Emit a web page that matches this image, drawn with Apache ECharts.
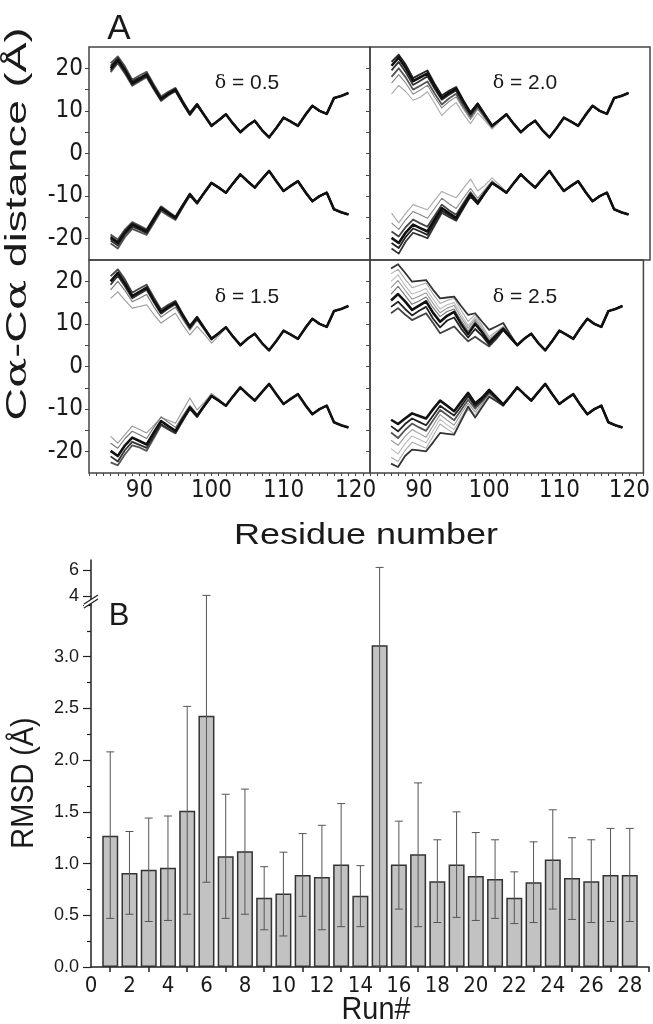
<!DOCTYPE html>
<html>
<head>
<meta charset="utf-8">
<script src="https://cdn.jsdelivr.net/npm/echarts@6/dist/echarts.min.js"></script>
<style>
html, body { margin: 0; padding: 0; background: #fff; }
#chart { width: 653px; height: 1024px; }
</style>
</head>
<body>
<div id="chart"></div>
<script>
// ---- panel A data: residues 86..119, heads cover 86..103, tails 104..119 ----
var residues = [86, 87, 88, 89, 90, 91, 92, 93, 94, 95, 96, 97, 98, 99, 100, 101, 102,
    103, 104, 105, 106, 107, 108, 109, 110, 111, 112, 113, 114, 115, 116, 117, 118, 119];
var residueLabels = [90, 100, 110, 120];
var distLabels = [-20, -10, 0, 10, 20];
var distTicks = [-20, -15, -10, -5, 0, 5, 10, 15, 20];
var deltaLabels = ['0.5', '2.0', '1.5', '2.5'];

var upperTail = [5.0, 6.5, 7.7, 5.5, 3.8, 6.0, 8.4, 7.5, 6.5, 9.0, 11.2, 10.0, 9.3, 13.0, 13.5, 14.2];
var lowerTail = [-4.9, -6.5, -8.0, -6.0, -4.1, -6.5, -8.8, -7.6, -6.5, -9.0, -11.2, -10.0, -9.2, -13.1, -13.8, -14.3];

var d05Upper = [
    [21.2, 22.8, 20.4, 17.3, 18.3, 19.2, 16.2, 13.4, 14.5, 15.4, 12.4, 9.6, 11.7, 9.1, 6.6, 7.8, 9.2, 7.0],
    [19.1, 21.2, 18.7, 15.9, 16.9, 17.9, 15.0, 12.3, 13.6, 14.6, 11.7, 9.0, 11.3, 8.9, 6.4, 7.8, 9.2, 7.0],
    [20.6, 22.4, 19.9, 17.0, 17.8, 18.8, 15.8, 13.0, 14.2, 15.2, 12.2, 9.4, 11.6, 9.0, 6.5, 7.8, 9.2, 7.0],
    [19.5, 21.6, 19.2, 16.2, 17.2, 18.2, 15.3, 12.6, 13.8, 14.8, 11.9, 9.2, 11.4, 9.0, 6.5, 7.8, 9.2, 7.0],
    [20.0, 22.0, 19.5, 16.5, 17.5, 18.5, 15.5, 12.8, 14.0, 15.0, 12.0, 9.3, 11.5, 9.0, 6.5, 7.8, 9.2, 7.0]
];
var d05Lower = [
    [-21.1, -22.3, -19.6, -17.7, -18.4, -19.1, -16.3, -13.5, -14.6, -15.6, -12.7, -9.9, -11.8, -9.3, -7.0, -8.0, -9.2, -7.0],
    [-19.0, -20.2, -17.8, -16.1, -16.9, -17.8, -15.0, -12.4, -13.6, -14.8, -12.0, -9.4, -11.5, -9.1, -6.9, -8.0, -9.2, -7.0],
    [-20.4, -21.6, -19.0, -17.2, -17.9, -18.7, -15.9, -13.1, -14.3, -15.3, -12.5, -9.7, -11.7, -9.2, -6.9, -8.0, -9.2, -7.0],
    [-19.5, -20.7, -18.2, -16.4, -17.2, -18.1, -15.3, -12.6, -13.8, -15.0, -12.2, -9.5, -11.6, -9.2, -6.9, -8.0, -9.2, -7.0],
    [-19.8, -21.0, -18.5, -16.7, -17.5, -18.3, -15.5, -12.8, -14.0, -15.1, -12.3, -9.6, -11.6, -9.2, -6.9, -8.0, -9.2, -7.0]
];

var d15Upper = [
    [16.0, 17.5, 15.5, 13.7, 14.1, 14.5, 12.2, 10.2, 11.4, 12.5, 9.8, 7.4, 9.4, 7.6, 5.5, 7.2, 9.0, 7.0],
    [18.0, 20.0, 17.8, 15.2, 16.0, 16.9, 14.0, 11.6, 12.8, 13.9, 11.1, 8.5, 10.8, 8.5, 6.2, 7.6, 9.2, 7.0],
    [21.2, 22.8, 20.4, 17.3, 18.3, 19.2, 16.2, 13.4, 14.5, 15.4, 12.4, 9.6, 11.7, 9.1, 6.6, 7.8, 9.2, 7.0],
    [19.2, 21.3, 18.8, 16.0, 17.0, 18.0, 15.1, 12.4, 13.6, 14.6, 11.7, 9.0, 11.3, 8.9, 6.4, 7.8, 9.2, 7.0],
    [20.0, 22.0, 19.5, 16.5, 17.5, 18.5, 15.5, 12.8, 14.0, 15.0, 12.0, 9.3, 11.5, 9.0, 6.5, 7.8, 9.2, 7.0]
];
var d15Lower = [
    [-16.4, -18.0, -16.0, -14.0, -14.8, -15.6, -13.8, -12.0, -12.6, -13.3, -10.4, -7.4, -10.2, -8.4, -6.3, -7.6, -9.2, -7.0],
    [-18.0, -19.2, -16.9, -15.2, -16.0, -16.9, -14.3, -11.8, -13.1, -14.3, -11.6, -9.1, -11.2, -8.9, -6.7, -8.0, -9.2, -7.0],
    [-22.5, -23.2, -20.6, -18.5, -19.0, -19.8, -16.8, -13.8, -14.8, -15.7, -12.8, -10.0, -11.8, -9.3, -7.0, -8.0, -9.2, -7.0],
    [-21.1, -22.3, -19.6, -17.7, -18.4, -19.1, -16.3, -13.5, -14.6, -15.6, -12.7, -9.9, -11.8, -9.3, -7.0, -8.0, -9.2, -7.0],
    [-19.8, -21.0, -18.5, -16.7, -17.5, -18.3, -15.5, -12.8, -14.0, -15.1, -12.3, -9.6, -11.6, -9.2, -6.9, -8.0, -9.2, -7.0]
];

var d20Upper = [
    [14.0, 16.0, 14.5, 12.5, 13.2, 14.5, 11.8, 8.9, 10.6, 12.0, 9.3, 7.0, 9.5, 7.7, 5.7, 7.4, 9.0, 7.0],
    [16.5, 18.5, 16.5, 13.9, 14.9, 16.0, 13.2, 10.7, 12.2, 13.3, 10.5, 8.0, 10.4, 8.2, 6.0, 7.6, 9.1, 7.0],
    [18.0, 20.0, 17.8, 15.0, 15.9, 16.9, 14.1, 11.5, 12.9, 14.0, 11.1, 8.6, 10.9, 8.6, 6.3, 7.7, 9.2, 7.0],
    [19.5, 21.5, 19.0, 16.1, 17.1, 18.1, 15.2, 12.6, 13.8, 14.8, 11.8, 9.2, 11.4, 8.9, 6.5, 7.8, 9.2, 7.0],
    [21.5, 23.2, 20.8, 17.7, 18.6, 19.5, 16.4, 13.6, 14.7, 15.6, 12.5, 9.7, 11.8, 9.2, 6.6, 7.8, 9.2, 7.0],
    [20.6, 22.5, 20.0, 17.0, 17.9, 18.8, 15.8, 13.0, 14.2, 15.2, 12.2, 9.4, 11.6, 9.0, 6.5, 7.8, 9.2, 7.0]
];
var d20Lower = [
    [-14.0, -16.3, -14.0, -12.0, -12.6, -13.2, -11.0, -8.9, -9.7, -10.4, -8.2, -6.0, -8.8, -7.5, -5.7, -7.3, -9.0, -7.0],
    [-16.3, -17.8, -15.5, -13.6, -14.4, -15.2, -12.9, -10.5, -11.8, -12.9, -10.5, -8.2, -10.5, -8.5, -6.4, -7.8, -9.1, -7.0],
    [-18.3, -19.5, -17.2, -15.5, -16.4, -17.2, -14.6, -12.0, -13.3, -14.4, -11.7, -9.1, -11.2, -9.0, -6.8, -8.0, -9.2, -7.0],
    [-22.3, -23.5, -20.6, -18.6, -19.2, -19.9, -16.9, -13.9, -14.9, -15.8, -12.9, -10.1, -11.9, -9.4, -7.0, -8.0, -9.2, -7.0],
    [-21.0, -22.2, -19.5, -17.6, -18.3, -19.1, -16.2, -13.4, -14.5, -15.5, -12.6, -9.8, -11.8, -9.3, -6.9, -8.0, -9.2, -7.0],
    [-19.8, -21.0, -18.5, -16.7, -17.5, -18.3, -15.5, -12.8, -14.0, -15.1, -12.3, -9.6, -11.6, -9.2, -6.9, -8.0, -9.2, -7.0]
];

var d25Upper = [
    [20.0, 21.5, 19.0, 17.0, 17.6, 18.3, 15.8, 13.5, 14.5, 15.0, 12.2, 9.6, 11.6, 9.1, 6.6, 7.9, 9.2, 7.0],
    [21.8, 22.8, 20.5, 18.5, 19.0, 19.6, 17.0, 14.8, 15.5, 16.0, 13.2, 10.6, 12.2, 9.6, 7.0, 8.2, 9.4, 7.1],
    [18.5, 20.2, 17.9, 15.8, 16.5, 17.3, 14.8, 12.6, 13.7, 14.3, 11.5, 9.0, 11.1, 8.8, 6.3, 7.7, 9.1, 7.0],
    [17.0, 18.8, 16.7, 14.6, 15.4, 16.3, 13.8, 11.7, 12.9, 13.5, 10.8, 8.3, 10.6, 8.4, 6.0, 7.5, 9.0, 6.9],
    [23.0, 24.0, 22.0, 19.9, 20.1, 20.3, 18.0, 16.0, 16.2, 16.4, 14.2, 12.1, 12.5, 10.5, 8.6, 9.4, 10.2, 7.5],
    [12.5, 13.7, 12.2, 10.9, 11.7, 12.5, 10.2, 7.8, 8.6, 9.4, 7.6, 5.9, 7.0, 5.8, 4.7, 6.4, 8.5, 6.8],
    [14.0, 15.2, 13.5, 12.0, 13.1, 14.0, 11.2, 9.2, 10.8, 11.5, 8.9, 6.8, 8.8, 7.2, 5.1, 6.8, 8.6, 6.8],
    [15.5, 17.0, 15.3, 13.3, 14.3, 15.3, 12.6, 10.5, 11.9, 12.8, 10.0, 7.6, 10.0, 8.0, 5.6, 7.3, 8.9, 6.9]
];
var d25Lower = [
    [-19.3, -20.5, -18.1, -16.3, -17.1, -17.9, -15.1, -12.4, -13.7, -14.8, -12.0, -9.4, -11.4, -9.1, -6.8, -8.0, -9.2, -7.0],
    [-21.3, -22.3, -19.7, -17.8, -18.5, -19.2, -16.3, -13.5, -14.7, -15.7, -12.8, -10.0, -11.9, -9.4, -7.0, -8.1, -9.2, -7.0],
    [-17.3, -18.5, -16.4, -14.8, -15.7, -16.6, -13.9, -11.3, -12.6, -13.8, -11.1, -8.6, -10.7, -8.7, -6.5, -7.8, -9.2, -7.0],
    [-15.5, -16.8, -14.9, -13.4, -14.3, -15.1, -12.6, -10.2, -11.4, -12.6, -10.2, -7.8, -9.9, -8.2, -6.2, -7.6, -9.1, -7.0],
    [-22.8, -23.6, -21.0, -19.5, -19.7, -19.9, -17.8, -15.6, -15.8, -16.0, -12.7, -9.4, -12.0, -9.5, -7.1, -8.1, -9.2, -7.0],
    [-14.0, -15.2, -13.5, -12.2, -13.0, -13.8, -11.5, -9.2, -10.4, -11.5, -9.3, -7.0, -9.3, -7.8, -5.9, -7.4, -9.0, -7.0],
    [-12.5, -13.5, -12.2, -11.0, -11.6, -12.2, -10.0, -8.0, -9.2, -10.5, -8.3, -6.2, -8.7, -7.3, -5.5, -7.2, -8.9, -7.0]
];

// ---- panel B data ----
var runs = [1, 2, 3, 4, 5, 6, 7, 8, 9, 10, 11, 12, 13, 14, 15, 16, 17, 18, 19, 20, 21, 22, 23, 24, 25, 26, 27, 28];
var rmsd = [1.27, 0.91, 0.94, 0.96, 1.51, 2.43, 1.07, 1.12, 0.67, 0.71, 0.89, 0.87, 0.99, 0.69,
    3.11, 0.99, 1.09, 0.83, 0.99, 0.88, 0.85, 0.67, 0.82, 1.04, 0.86, 0.83, 0.89, 0.89];
var errHigh = [2.08, 1.31, 1.44, 1.46, 2.52, 4.05, 1.67, 1.72, 0.97, 1.11, 1.29, 1.37, 1.58, 0.98,
    6.2, 1.41, 1.78, 1.23, 1.50, 1.30, 1.23, 0.92, 1.21, 1.52, 1.25, 1.23, 1.34, 1.34];
var errLow = [0.47, 0.51, 0.44, 0.45, 0.51, 0.82, 0.47, 0.51, 0.36, 0.30, 0.49, 0.36, 0.39, 0.39,
    0.0, 0.56, 0.39, 0.43, 0.48, 0.45, 0.47, 0.42, 0.43, 0.56, 0.46, 0.43, 0.44, 0.44];
var runLabels = [0, 2, 4, 6, 8, 10, 12, 14, 16, 18, 20, 22, 24, 26, 28];
var runTicks = [1, 3, 5, 7, 9, 11, 13, 15, 17, 19, 21, 23, 25, 27, 29];
var brokenLabels = [4, 6];

// ---- styles ----
var SANS = '"Liberation Sans", Arial, sans-serif';
var NARROW = '"Liberation Sans Narrow", "Arial Narrow", "DejaVu Sans Condensed", "Liberation Sans", sans-serif';
var SERIF = '"DejaVu Serif", "Liberation Serif", serif';
var INK = '#1a1a1a';
var FRAME = '#444';

var shades = {
    d05u: ['#555', '#555', '#333', '#2a2a2a', '#111'],
    d05l: ['#555', '#555', '#333', '#2a2a2a', '#111'],
    d15u: ['#999', '#777', '#444', '#333', '#111'],
    d15l: ['#999', '#777', '#555', '#333', '#111'],
    d20u: ['#aaa', '#888', '#555', '#333', '#222', '#111'],
    d20l: ['#aaa', '#888', '#444', '#333', '#222', '#111'],
    d25u: ['#bbb', '#aaa', '#999', '#777', '#333', '#444', '#222', '#111'],
    d25l: ['#bbb', '#aaa', '#999', '#555', '#333', '#222', '#111']
};

var panelGrids = [
    {left: 89, top: 47, width: 281, height: 213},
    {left: 370, top: 47, width: 280, height: 213},
    {left: 89, top: 260, width: 281, height: 213},
    {left: 370, top: 260, width: 280, height: 213}
];

var residueTicks = [];
for (var r = 83; r <= 122; r++) residueTicks.push(r);

function traceData(head, tail) {
    return residues.map(function (res, i) {
        return [res, i < head.length ? head[i] : tail[i - head.length]];
    });
}

function lineSeries(gi, data, shade) {
    var level = parseInt(shade.substr(1, 1), 16);
    var width = level >= 7 ? 1.1 : (level <= 1 ? 2.6 : 1.8);
    return {
        type: 'line', xAxisIndex: gi, yAxisIndex: gi, data: data,
        symbol: 'none', silent: true, animation: false,
        lineStyle: {color: shade, width: width, join: 'round'}
    };
}

function panelSeries(gi, uppers, upShades, lowers, loShades) {
    var out = [];
    uppers.forEach(function (h, k) { out.push(lineSeries(gi, traceData(h, upperTail), upShades[k])); });
    lowers.forEach(function (h, k) { out.push(lineSeries(gi, traceData(h, lowerTail), loShades[k])); });
    return out;
}

function resAxis(gi, bottom) {
    return {
        type: 'value', gridIndex: gi, min: 83, max: 122,
        splitLine: {show: false}, axisLine: {show: false, onZero: false},
        axisTick: {show: bottom, customValues: residueTicks, length: 3, lineStyle: {color: FRAME}},
        axisLabel: {show: bottom, customValues: residueLabels, margin: 6, fontSize: 24, fontFamily: NARROW, color: INK}
    };
}

function distAxis(gi, left) {
    return {
        type: 'value', gridIndex: gi, min: -25, max: 25,
        splitLine: {show: false}, axisLine: {show: false, onZero: false},
        axisTick: {show: true, customValues: distTicks, length: 4, lineStyle: {color: FRAME}},
        axisLabel: {show: left, customValues: distLabels, margin: 6, fontSize: 24, fontFamily: NARROW, color: INK}
    };
}

function renderErr(params, api) {
    var x = api.value(0);
    var pLo = api.coord([x, api.value(1)]);
    var pHi = api.coord([x, api.value(2)]);
    var cap = 4;
    var st = {stroke: '#555', lineWidth: 1};
    return {
        type: 'group',
        children: [
            {type: 'line', shape: {x1: pHi[0], y1: pHi[1], x2: pLo[0], y2: pLo[1]}, style: st},
            {type: 'line', shape: {x1: pHi[0] - cap, y1: pHi[1], x2: pHi[0] + cap, y2: pHi[1]}, style: st},
            {type: 'line', shape: {x1: pLo[0] - cap, y1: pLo[1], x2: pLo[0] + cap, y2: pLo[1]}, style: st}
        ]
    };
}

var errData = runs.map(function (run, i) { return [run, errLow[i], errHigh[i]]; });

var grids = panelGrids.map(function (g) {
    return {left: g.left, top: g.top, width: g.width, height: g.height, show: true,
        borderColor: FRAME, borderWidth: 1.5, backgroundColor: 'transparent'};
});
grids.push({left: 91, top: 605, width: 558, height: 362});
grids.push({left: 91, top: 560, width: 558, height: 45});

var xAxes = [resAxis(0, false), resAxis(1, false), resAxis(2, true), resAxis(3, true)];
xAxes.push({
    type: 'value', gridIndex: 4, min: 0, max: 29,
    splitLine: {show: false},
    axisLine: {show: true, onZero: false, lineStyle: {color: '#222', width: 1.5}},
    axisTick: {show: true, customValues: runTicks, length: 5, lineStyle: {color: '#222', width: 1.5}},
    axisLabel: {customValues: runLabels, margin: 8, fontSize: 22, fontFamily: NARROW, color: INK}
});
xAxes.push({type: 'value', gridIndex: 5, min: 0, max: 29, show: false});

var yAxes = [distAxis(0, true), distAxis(1, false), distAxis(2, true), distAxis(3, false)];
yAxes.push({
    type: 'value', gridIndex: 4, min: 0, max: 3.5, interval: 0.5,
    splitLine: {show: false},
    axisLine: {show: true, onZero: false, lineStyle: {color: '#222', width: 1.5}},
    axisTick: {show: true, length: 8, lineStyle: {color: '#222', width: 1.2}},
    minorTick: {show: true, splitNumber: 2, length: 4, lineStyle: {color: '#222', width: 1.2}},
    axisLabel: {showMaxLabel: false, margin: 12, fontSize: 18, fontFamily: SANS, color: INK,
        formatter: function (v) { return v.toFixed(1); }}
});
yAxes.push({
    type: 'value', gridIndex: 5, min: 3.31, max: 6.77,
    splitLine: {show: false},
    axisLine: {show: true, onZero: false, lineStyle: {color: '#222', width: 1.5}},
    axisTick: {show: true, customValues: brokenLabels, length: 8, lineStyle: {color: '#222', width: 1.2}},
    axisLabel: {customValues: brokenLabels, margin: 12, fontSize: 18, fontFamily: SANS, color: INK}
});

var series = []
    .concat(panelSeries(0, d05Upper, shades.d05u, d05Lower, shades.d05l))
    .concat(panelSeries(1, d20Upper, shades.d20u, d20Lower, shades.d20l))
    .concat(panelSeries(2, d15Upper, shades.d15u, d15Lower, shades.d15l))
    .concat(panelSeries(3, d25Upper, shades.d25u, d25Lower, shades.d25l));

series.push({
    type: 'bar', xAxisIndex: 4, yAxisIndex: 4, barWidth: 16, silent: true,
    data: runs.map(function (run, i) { return [run, rmsd[i]]; }),
    itemStyle: {color: '#c2c2c2', borderColor: '#333', borderWidth: 1.5}
});
series.push({
    type: 'custom', xAxisIndex: 4, yAxisIndex: 4, clip: true, silent: true, z: 5,
    renderItem: renderErr, data: errData, encode: {x: 0, y: [1, 2]}
});
series.push({
    type: 'custom', xAxisIndex: 5, yAxisIndex: 5, clip: true, silent: true, z: 5,
    renderItem: renderErr, data: errData, encode: {x: 0, y: [1, 2]}
});

function label(x, y, text, size, opts) {
    opts = opts || {};
    return {
        type: 'text', x: x, y: y, rotation: opts.rotation || 0,
        scaleX: opts.scaleX || 1, scaleY: 1, z: 10, silent: true,
        style: {
            text: text, fill: INK, fontSize: size, fontFamily: SANS,
            textAlign: 'center', textVerticalAlign: 'middle',
            rich: {
                g: {fontFamily: SERIF, fontSize: opts.greekSize || size, fill: INK},
                n: {fontFamily: SANS, fontSize: size, fill: INK}
            }
        }
    };
}

var deltaPos = [[247, 83], [525, 83], [247, 297], [525, 297]];
var graphics = deltaPos.map(function (p, i) {
    return label(p[0], p[1], '{g|δ}{n| = ' + deltaLabels[i] + '}', 21, {greekSize: 19});
});
graphics.push(label(119, 29, 'A', 35));
graphics.push(label(119, 616, 'B', 31));
graphics.push(label(18, 224, '{n|C}{g|α}{n|-C}{g|α}{n| distance (Å)}', 29, {rotation: Math.PI / 2, scaleX: 1.55}));
graphics.push(label(366, 536, 'Residue number', 30, {scaleX: 1.2}));
graphics.push(label(24, 783, 'RMSD (Å)', 31, {rotation: Math.PI / 2, scaleX: 0.93}));
graphics.push(label(376, 1010, 'Run#', 32, {scaleX: 0.9}));
// axis break marks
graphics.push({type: 'polygon', z: 11, shape: {points: [[84, 604], [98, 595], [98, 599], [84, 608]]},
    style: {fill: '#fff'}});
graphics.push({type: 'line', z: 12, shape: {x1: 84, y1: 604, x2: 98, y2: 595}, style: {stroke: '#222', lineWidth: 1.3}});
graphics.push({type: 'line', z: 12, shape: {x1: 84, y1: 608, x2: 98, y2: 599}, style: {stroke: '#222', lineWidth: 1.3}});

var chart = echarts.init(document.getElementById('chart'));
chart.setOption({
    backgroundColor: '#fff',
    animation: false,
    grid: grids,
    xAxis: xAxes,
    yAxis: yAxes,
    series: series,
    graphic: graphics
});
</script>
</body>
</html>
